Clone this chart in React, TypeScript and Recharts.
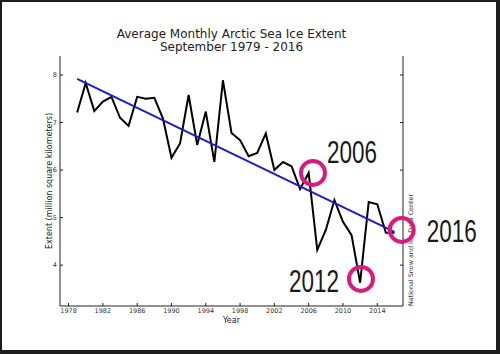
import { Line, LineChart, ReferenceDot, XAxis, YAxis } from 'recharts';

const years = [
  1979, 1980, 1981, 1982, 1983, 1984, 1985, 1986, 1987, 1988,
  1989, 1990, 1991, 1992, 1993, 1994, 1995, 1996, 1997, 1998,
  1999, 2000, 2001, 2002, 2003, 2004, 2005, 2006, 2007, 2008,
  2009, 2010, 2011, 2012, 2013, 2014, 2015, 2016,
];
const extent = [
  7.21, 7.83, 7.24, 7.44, 7.54, 7.1, 6.93, 7.54, 7.5, 7.52,
  7.09, 6.26, 6.56, 7.58, 6.53, 7.23, 6.17, 7.89, 6.78, 6.63,
  6.29, 6.36, 6.77, 6.0, 6.17, 6.08, 5.6, 5.94, 4.32, 4.74,
  5.37, 4.91, 4.63, 3.63, 5.33, 5.28, 4.68, 4.68,
];
const trendYears = [1979, 2016];
const trendExtent = [7.92, 4.7];
const xTicks = [1978, 1982, 1986, 1990, 1994, 1998, 2002, 2006, 2010, 2014];
const yTicks = [4, 5, 6, 7, 8];
const circleYears = [2006.5, 2012.1, 2016.85];
const circleExtent = [5.94, 3.71, 4.74];
const circleLabels = ['2006', '2012', '2016'];

const data = years.map((year, i) => ({ year, extent: extent[i] }));
const trendData = trendYears.map((year, i) => ({ year, trend: trendExtent[i] }));

const FONT = '"DejaVu Sans", sans-serif';
const tickStyle = { fontSize: 6.5, fill: '#333', fontFamily: FONT };
const noTick = () => <g />;

// big year number next to each circle, offset from the circle centre
const labelOffsets = [
  { dx: 14, dy: -10 },
  { dx: -72, dy: 13 },
  { dx: 25, dy: 12 },
];

function yearTag(text: string, dx: number, dy: number) {
  return (props: any) => {
    const { x, y, width, height } = props.viewBox;
    return (
      <text
        x={x + width / 2 + dx}
        y={y + height / 2 + dy}
        fontSize={32}
        fontFamily='"Liberation Sans", Arial, sans-serif'
        textLength={50}
        lengthAdjust="spacingAndGlyphs"
        fill="#1a1a1a"
      >
        {text}
      </text>
    );
  };
}

export default function App() {
  return (
    <div style={{ position: 'relative', width: 500, height: 354, background: '#fff' }}>
      <style>{'body{margin:0}'}</style>
      <div
        style={{
          position: 'absolute',
          left: 0,
          top: 27.7,
          width: 463,
          textAlign: 'center',
          fontFamily: FONT,
          fontSize: 12,
          lineHeight: '13.2px',
          color: '#222',
        }}
      >
        Average Monthly Arctic Sea Ice Extent
        <br />
        September 1979 - 2016
      </div>
      <LineChart
        width={500}
        height={354}
        data={data}
        margin={{ top: 56, right: 0, bottom: 0, left: 0 }}
        style={{ position: 'absolute', left: 0, top: 0 }}
      >
        <XAxis
          dataKey="year"
          type="number"
          domain={[1977, 2017]}
          ticks={xTicks}
          allowDataOverflow
          height={48}
          tickSize={-3}
          tickMargin={5}
          tick={tickStyle}
          stroke="#222"
          label={{
            content: (p: any) => {
              const { x, y, width } = p.viewBox;
              return (
                <text x={x + width / 2} y={y + 17} textAnchor="middle" fontSize={8} fontFamily={FONT} fill="#222">
                  Year
                </text>
              );
            },
          }}
        />
        <XAxis
          xAxisId="top"
          orientation="top"
          type="number"
          domain={[1977, 2017]}
          ticks={xTicks}
          allowDataOverflow
          height={0}
          tickSize={-3}
          tick={noTick}
          stroke="#222"
        />
        <YAxis
          type="number"
          domain={[3.14, 8.4]}
          ticks={yTicks}
          allowDataOverflow
          width={60}
          tickSize={-3}
          tickMargin={6}
          tick={tickStyle}
          stroke="#222"
          label={{
            content: (p: any) => {
              const { y, height } = p.viewBox;
              return (
                <text
                  transform={`translate(51.5,${y + height / 2}) rotate(-90)`}
                  textAnchor="middle"
                  fontSize={8}
                  fontFamily={FONT}
                  fill="#222"
                >
                  Extent (million square kilometers)
                </text>
              );
            },
          }}
        />
        <YAxis
          yAxisId="r"
          orientation="right"
          type="number"
          domain={[3.14, 8.4]}
          ticks={yTicks}
          allowDataOverflow
          width={97}
          tickSize={-3}
          tick={noTick}
          stroke="#222"
          label={{
            content: (p: any) => {
              const { x, y, height } = p.viewBox;
              return (
                <text
                  transform={`translate(${x + 10},${y + height}) rotate(-90)`}
                  textAnchor="start"
                  fontSize={6.4}
                  fontFamily={FONT}
                  fill="#333"
                >
                  National Snow and Ice Data Center
                </text>
              );
            },
          }}
        />
        <Line
          dataKey="extent"
          stroke="#000"
          strokeWidth={2}
          dot={false}
          activeDot={false}
          isAnimationActive={false}
        />
        <Line
          data={trendData}
          dataKey="trend"
          stroke="#1c1cc8"
          strokeWidth={2}
          dot={false}
          activeDot={false}
          isAnimationActive={false}
        />
        {circleYears.map((yr, i) => (
          <ReferenceDot
            key={circleLabels[i]}
            x={yr}
            y={circleExtent[i]}
            r={12}
            fill="none"
            stroke="#d81b7f"
            strokeWidth={4}
            ifOverflow="visible"
            label={{ content: yearTag(circleLabels[i], labelOffsets[i].dx, labelOffsets[i].dy) }}
          />
        ))}
      </LineChart>
      <div
        style={{
          position: 'absolute',
          inset: 0,
          boxSizing: 'border-box',
          borderStyle: 'solid',
          borderColor: '#1e1e1e',
          borderWidth: '2px 4px 4px 2px',
          pointerEvents: 'none',
        }}
      />
    </div>
  );
}
